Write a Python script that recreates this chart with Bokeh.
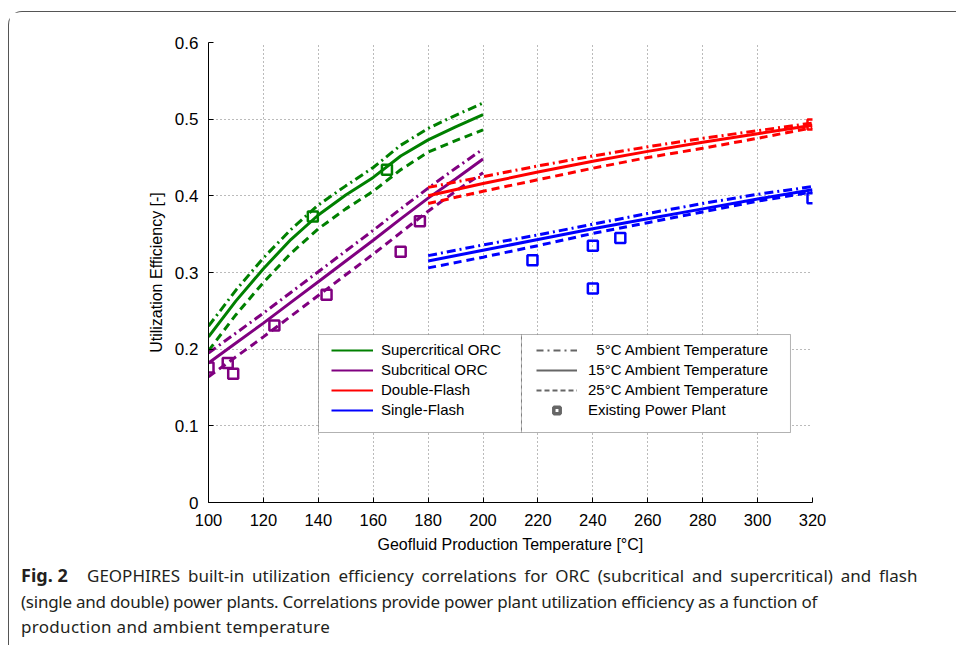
from bokeh.plotting import figure
from bokeh.layouts import column
from bokeh.models import (Legend, LegendItem, BoxAnnotation, FixedTicker, Div,
                          NumeralTickFormatter, Range1d)
from bokeh.embed import file_html
from bokeh.resources import INLINE

# ---------------- data ----------------
T_orc = [100, 110, 120, 130, 140, 150, 160, 170, 180, 190, 200]
super_5C = [0.230, 0.277, 0.319, 0.356, 0.388, 0.413, 0.437, 0.466, 0.488, 0.505, 0.521]
super_15C = [0.216, 0.263, 0.305, 0.343, 0.375, 0.401, 0.424, 0.452, 0.473, 0.490, 0.506]
super_25C = [0.198, 0.245, 0.287, 0.325, 0.357, 0.383, 0.406, 0.434, 0.457, 0.472, 0.486]
sub_5C = [0.195, 0.221, 0.247, 0.274, 0.301, 0.328, 0.355, 0.383, 0.410, 0.436, 0.461]
sub_15C = [0.182, 0.208, 0.234, 0.261, 0.288, 0.315, 0.342, 0.370, 0.397, 0.422, 0.448]
sub_25C = [0.164, 0.190, 0.216, 0.243, 0.270, 0.297, 0.324, 0.352, 0.380, 0.406, 0.430]

T_flash = [180, 200, 220, 240, 260, 280, 300, 320]
dflash_5C = [0.411, 0.425, 0.439, 0.452, 0.464, 0.475, 0.485, 0.495]
dflash_15C = [0.400, 0.416, 0.431, 0.445, 0.458, 0.470, 0.481, 0.492]
dflash_25C = [0.390, 0.406, 0.421, 0.436, 0.450, 0.462, 0.475, 0.489]
sflash_5C = [0.322, 0.336, 0.349, 0.363, 0.377, 0.390, 0.402, 0.412]
sflash_15C = [0.315, 0.329, 0.343, 0.357, 0.370, 0.383, 0.396, 0.408]
sflash_25C = [0.306, 0.320, 0.335, 0.351, 0.365, 0.379, 0.393, 0.405]

super_plant_T = [138, 165]
super_plant_U = [0.373, 0.434]
sub_plant_T = [100, 107, 109, 124, 143, 170, 177]
sub_plant_U = [0.176, 0.182, 0.168, 0.231, 0.271, 0.327, 0.367]
dflash_plant_T = [320]
dflash_plant_U = [0.493]
sflash_plant_T = [218, 240, 240, 250, 320]
sflash_plant_U = [0.316, 0.335, 0.279, 0.345, 0.397]

x_ticks = [100, 120, 140, 160, 180, 200, 220, 240, 260, 280, 300, 320]
y_ticks = [0, 0.1, 0.2, 0.3, 0.4, 0.5, 0.6]

series_names = ["Supercritical ORC", "Subcritical ORC", "Double-Flash", "Single-Flash"]
ambient_names = ["\u00a0\u00a05\u00b0C Ambient Temperature", "15\u00b0C Ambient Temperature",
                 "25\u00b0C Ambient Temperature", "Existing Power Plant"]

caption_bold = "Fig. 2"
caption_lines = [
    "GEOPHIRES built-in utilization efficiency correlations for ORC (subcritical and supercritical) and flash",
    "(single and double) power plants. Correlations provide power plant utilization efficiency as a function of",
    "production and ambient temperature",
]

# ---------------- styling ----------------
GREEN = "#008000"
PURPLE = "#800080"
RED = "#ff0000"
BLUE = "#0000ff"
GRAY = "#666666"
DASHDOT = "9 4 2 4"
DASHED = "8 5"
FONT = "Liberation Sans"
NAN = float("nan")

p = figure(width=945, height=550, x_range=Range1d(100, 320), y_range=Range1d(0, 0.6),
           output_backend="svg", toolbar_location=None,
           min_border_left=199, min_border_right=142, min_border_top=30, min_border_bottom=60)
p.outline_line_color = None
p.background_fill_color = "white"

p.xaxis.ticker = FixedTicker(ticks=x_ticks)
p.yaxis.ticker = FixedTicker(ticks=y_ticks)
p.xgrid.ticker = FixedTicker(ticks=x_ticks)
p.ygrid.ticker = FixedTicker(ticks=y_ticks)
p.yaxis.formatter = NumeralTickFormatter(format="0.[0]")
for g in (p.xgrid, p.ygrid):
    g.grid_line_color = "#777777"
    g.grid_line_dash = "1 3"
    g.grid_line_width = 1

for ax in (p.xaxis, p.yaxis):
    ax.axis_line_color = "black"
    ax.major_tick_line_color = "black"
    ax.major_tick_in = 5
    ax.major_tick_out = 0
    ax.minor_tick_line_color = None
    ax.major_label_text_font = FONT
    ax.major_label_text_color = "black"
    ax.axis_label_text_font = FONT
    ax.axis_label_text_font_style = "normal"
    ax.axis_label_text_font_size = "16px"
    ax.axis_label_text_color = "black"
    ax.axis_label_standoff = 7

p.xaxis.major_label_text_font_size = "16.5px"
p.yaxis.major_label_text_font_size = "17px"
p.xaxis.major_label_standoff = 11
p.yaxis.major_label_standoff = 10
p.xaxis.axis_label = "Geofluid Production Temperature [\u00b0C]"
p.yaxis.axis_label = "Utilization Efficiency [-]"

# ---------------- curves ----------------
LW = 3
curves = [
    (T_orc, super_5C, super_15C, super_25C, GREEN),
    (T_orc, sub_5C, sub_15C, sub_25C, PURPLE),
    (T_flash, dflash_5C, dflash_15C, dflash_25C, RED),
    (T_flash, sflash_5C, sflash_15C, sflash_25C, BLUE),
]
for T, c5, c15, c25, col in curves:
    p.line(T, c5, line_color=col, line_width=LW, line_dash=DASHDOT)
    p.line(T, c15, line_color=col, line_width=LW)
    p.line(T, c25, line_color=col, line_width=LW, line_dash=DASHED)

plants = [
    (super_plant_T, super_plant_U, GREEN),
    (sub_plant_T, sub_plant_U, PURPLE),
    (dflash_plant_T, dflash_plant_U, RED),
    (sflash_plant_T, sflash_plant_U, BLUE),
]
for T, U, col in plants:
    p.scatter(T, U, marker="square", size=10, line_color=col, line_width=2.5, fill_color=None)

# ---------------- legend ----------------
legend_box = BoxAnnotation(left=140.07, right=311.98, bottom=0.0913, top=0.2191,
                           fill_color="white", fill_alpha=1, line_color="black", line_width=1)
divider = BoxAnnotation(left=214.0, right=214.0, bottom=0.0913, top=0.2191,
                        fill_alpha=0, line_color="black", line_width=1, line_dash="5 2")
p.add_layout(legend_box)
p.add_layout(divider)

left_items = []
for name, col in zip(series_names, [GREEN, PURPLE, RED, BLUE]):
    r = p.line([NAN], [NAN], line_color=col, line_width=2)
    left_items.append(LegendItem(label=name, renderers=[r]))

r_dd = p.line([NAN], [NAN], line_color=GRAY, line_width=2, line_dash="7 4 2 4")
r_solid = p.line([NAN], [NAN], line_color=GRAY, line_width=2)
r_dash = p.line([NAN], [NAN], line_color=GRAY, line_width=2, line_dash="5 3")
r_mark = p.scatter([NAN], [NAN], marker="square", size=11, line_color=GRAY, line_width=3.5,
                   fill_color="white")
right_items = [LegendItem(label=n, renderers=[r]) for n, r in
               zip(ambient_names, [r_dd, r_solid, r_dash, r_mark])]

common = dict(orientation="vertical", padding=0, spacing=3, glyph_height=16, label_height=16,
              label_text_font=FONT, label_text_font_size="15px", label_text_color="black",
              border_line_alpha=0, background_fill_alpha=0, margin=0)
leg1 = Legend(items=left_items, location=(123, 84), glyph_width=42, label_standoff=8, **common)
leg2 = Legend(items=right_items, location=(328, 84), glyph_width=41, label_standoff=11, **common)
p.add_layout(leg1)
p.add_layout(leg2)

# ---------------- caption ----------------
caption_html = (
    f'<b style="display:inline-block;width:66px;font-size:18px">{caption_bold}</b>'
    f'<span style="word-spacing:3.4px">{caption_lines[0]}</span><br>'
    f'<span style="letter-spacing:-0.25px">{caption_lines[1]}</span><br>'
    f'<span style="letter-spacing:0.3px">{caption_lines[2]}</span>'
)
caption = Div(text=caption_html, width=935,
              styles={"font-family": "'Noto Sans'", "font-size": "17px",
                      "line-height": "25.5px", "color": "#231f20", "white-space": "nowrap",
                      "margin-left": "12px", "margin-top": "1px"})

layout = column(p, caption,
                styles={"border-top": "1px solid #555555", "border-left": "1px solid #555555",
                        "border-top-left-radius": "14px", "margin-top": "11px",
                        "margin-left": "8px"})

open("out.html", "w").write(file_html(layout, INLINE))
